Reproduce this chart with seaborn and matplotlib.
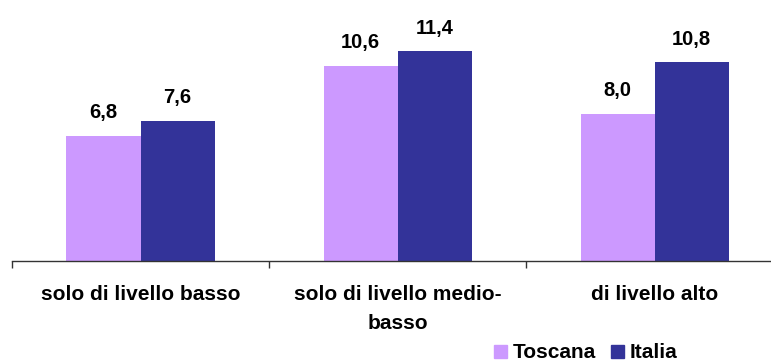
import pandas as pd
import numpy as np
import matplotlib
matplotlib.use("Agg")
import matplotlib.pyplot as plt
import seaborn as sns

# Chart data
categories = ["solo di livello basso", "solo di livello medio-\nbasso", "di livello alto"]
toscana = [6.8, 10.6, 8.0]
italia = [7.6, 11.4, 10.8]
series_names = ["Toscana", "Italia"]
colors = ["#CC99FF", "#333399"]

df = pd.DataFrame({
    "categoria": categories * 2,
    "valore": toscana + italia,
    "area": [series_names[0]] * 3 + [series_names[1]] * 3,
})

sns.set_style("white")
plt.rcParams['font.family'] = ['Liberation Sans', 'DejaVu Sans']
plt.rcParams['text.color'] = 'black'

fig = plt.figure(figsize=(7.71, 3.63), dpi=100)
ax = fig.add_axes([12 / 771, 102 / 363, 1 - 12 / 771, 261 / 363])

sns.barplot(data=df, x="categoria", y="valore", hue="area", palette=colors,
            width=0.576, saturation=1, linewidth=0, ax=ax, legend=False)

# Value labels above bars
for cont in ax.containers:
    ax.bar_label(cont, labels=[f"{v:.1f}".replace(".", ",") for v in cont.datavalues],
                 padding=10, fontsize=14.5, fontweight="bold", color="black")

for s in ["top", "right", "left"]:
    ax.spines[s].set_visible(False)
ax.spines["bottom"].set_color("#333333")
ax.spines["bottom"].set_linewidth(1)

ax.set_xticks(range(3))
ax.set_xticklabels(categories, fontsize=15, fontweight="bold", linespacing=1.7, color="black")
ax.tick_params(axis="x", which="major", length=0, pad=17)
ax.set_xticks([-0.5, 0.5, 1.5, 2.5], minor=True)
ax.tick_params(axis="x", which="minor", length=5, width=1, color="#333333", direction="out", bottom=True)

# limits after ticks, so the ticks do not widen the view
ax.set_ylim(0, 14.2)
ax.set_xlim(-0.5, 2.453)
ax.set_xlabel("")
ax.set_ylabel("")
ax.set_yticks([])

# Legend
handles = [plt.Rectangle((0, 0), 1, 1, color=c) for c in colors]
fig.legend(handles, series_names, loc="center", bbox_to_anchor=(586 / 771, 1 - 353 / 363),
           ncol=2, frameon=False, prop={"weight": "bold", "size": 15},
           handlelength=0.6, handleheight=0.6, handletextpad=0.3, columnspacing=0.7,
           borderpad=0, borderaxespad=0)

fig.savefig("out.png", dpi=100)
